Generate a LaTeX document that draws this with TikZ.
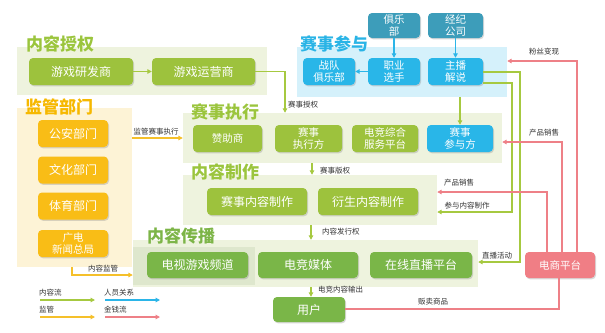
\documentclass[tikz,border=0pt]{standalone}
\usepackage{fontspec}
\setmainfont{Noto Sans CJK SC}
\usetikzlibrary{shadows,arrows.meta}
\definecolor{gboxc}{HTML}{9DC23D}
\definecolor{dboxc}{HTML}{7AB648}
\definecolor{gpanel}{HTML}{EEF3DE}
\definecolor{gpanel2}{HTML}{DEE7CD}
\definecolor{ypanel}{HTML}{FDF3D6}
\definecolor{yboxc}{HTML}{F9BD16}
\definecolor{bpanel}{HTML}{D5F1FB}
\definecolor{bboxc}{HTML}{29B6E8}
\definecolor{tboxc}{HTML}{3D9DBA}
\definecolor{pboxc}{HTML}{F07E85}
\definecolor{gline}{HTML}{A6C940}
\definecolor{yline}{HTML}{F5C02A}
\definecolor{bline}{HTML}{2BB5E8}
\definecolor{pline}{HTML}{EE8087}
\definecolor{gtitle}{HTML}{9BC53D}
\definecolor{ytitle}{HTML}{F6B800}
\definecolor{btitle}{HTML}{2AB4E6}
\definecolor{dtitle}{HTML}{7DB548}
\definecolor{lbl}{HTML}{333333}
\tikzset{
  box/.style={rounded corners=4pt, text=white, align=center, inner sep=0pt,
    font=\fontsize{12}{14}\selectfont,
    drop shadow={shadow xshift=1pt, shadow yshift=-1.3pt, opacity=0.3}},
  twoline/.style={font=\fontsize{10.5}{12}\selectfont},
  gbox/.style={box, fill=gboxc},
  dbox/.style={box, fill=dboxc},
  ybox/.style={box, fill=yboxc},
  bbox/.style={box, fill=bboxc},
  tbox/.style={box, fill=tboxc},
  pbox/.style={box, fill=pboxc},
  panel/.style={inner sep=0pt, draw=none},
  ttl/.style={font=\fontsize{17}{19}\selectfont\bfseries, inner sep=0pt},
  lab/.style={font=\fontsize{7.5}{9}\selectfont, text=lbl, inner sep=0pt},
  tip/.style={-{Triangle[length=4.5pt,width=4.5pt]}},
  gl/.style={draw=gline, line width=1.4pt, tip},
  yl/.style={draw=yline, line width=1.4pt, tip},
  bl/.style={draw=bline, line width=1.4pt, tip},
  pl/.style={draw=pline, line width=1.4pt, tip},
}
\begin{document}
\begin{tikzpicture}[x=1pt,y=-1pt]
\useasboundingbox[fill=white] (0,0) rectangle (605,332);
% panels
\node[panel, fill=gpanel, minimum width=250pt, minimum height=48pt] (P1) at (142,71) {};
\node[panel, fill=ypanel, minimum width=115pt, minimum height=159pt] (P2) at (74.5,187.5) {};
\node[panel, fill=bpanel, minimum width=210pt, minimum height=50pt] (P3) at (402,72) {};
\node[panel, fill=gpanel, minimum width=319pt, minimum height=50pt] (P4) at (342.5,138) {};
\node[panel, fill=gpanel, minimum width=254pt, minimum height=50pt] (P5) at (310,200) {};
\node[panel, fill=gpanel, minimum width=345pt, minimum height=47pt] (P6) at (305.5,263.5) {};
\node[panel, fill=gpanel2, minimum width=122pt, minimum height=38pt] (P6b) at (194,266) {};
% titles
\node[ttl, text=gtitle] (T1) at (60,44) {内容授权};
\node[ttl, text=ytitle] (T2) at (59,107) {监管部门};
\node[ttl, text=btitle] (T3) at (334,44) {赛事参与};
\node[ttl, text=gtitle] (T4) at (225,112) {赛事执行};
\node[ttl, text=gtitle] (T5) at (225,172) {内容制作};
\node[ttl, text=dtitle] (T6) at (181,236) {内容传播};
% content license
\node[gbox, minimum width=104pt, minimum height=27pt] (a1) at (81,71.5) {游戏研发商};
\node[gbox, minimum width=103pt, minimum height=27pt] (a2) at (203.5,71.5) {游戏运营商};
% participation
\node[tbox, twoline, minimum width=52pt, minimum height=25pt] (c1) at (394,25.5) {俱乐\\部};
\node[tbox, twoline, minimum width=55pt, minimum height=25pt] (c2) at (455.5,25.5) {经纪\\公司};
\node[bbox, twoline, minimum width=52pt, minimum height=27pt] (b1) at (329,71.5) {战队\\俱乐部};
\node[bbox, twoline, minimum width=52pt, minimum height=27pt] (b2) at (394,71.5) {职业\\选手};
\node[bbox, twoline, minimum width=55pt, minimum height=27pt] (b3) at (455.5,71.5) {主播\\解说};
% supervision
\node[ybox, minimum width=70pt, minimum height=27pt] (s1) at (73,133.5) {公安部门};
\node[ybox, minimum width=70pt, minimum height=27pt] (s2) at (73,170) {文化部门};
\node[ybox, minimum width=70pt, minimum height=27pt] (s3) at (73,206) {体育部门};
\node[ybox, twoline, minimum width=70pt, minimum height=27pt] (s4) at (73,243.5) {广电\\新闻总局};
% execution
\node[gbox, twoline, minimum width=69pt, minimum height=27pt] (e1) at (227.5,138.5) {赞助商};
\node[gbox, twoline, minimum width=67pt, minimum height=27pt] (e2) at (308.5,138.5) {赛事\\执行方};
\node[gbox, twoline, minimum width=66pt, minimum height=27pt] (e3) at (385,138.5) {电竞综合\\服务平台};
\node[bbox, twoline, minimum width=66pt, minimum height=27pt] (e4) at (460,138.5) {赛事\\参与方};
% production
\node[gbox, minimum width=100pt, minimum height=27pt] (m1) at (257,201.5) {赛事内容制作};
\node[gbox, minimum width=100pt, minimum height=27pt] (m2) at (368,201.5) {衍生内容制作};
% distribution
\node[dbox, minimum width=101pt, minimum height=26pt] (d1) at (197.5,265) {电视游戏频道};
\node[dbox, minimum width=100pt, minimum height=26pt] (d2) at (308,265) {电竞媒体};
\node[dbox, minimum width=102pt, minimum height=26pt] (d3) at (421,265) {在线直播平台};
\node[dbox, minimum width=72pt, minimum height=25pt] (u) at (309,309.5) {用户};
\node[pbox, twoline, minimum width=70pt, minimum height=26pt] (ec) at (560,265) {电商平台};
% connectors
\draw[gl] (a1) -- (a2);
\coordinate (k1) at (285,71.5);
\draw[gl] (a2.east) -- (k1) -- (k1 |- P4.north);
\node[lab, anchor=west] (L1) at (288,105) {赛事授权};
\draw[bl] (c1) -- (b2);
\draw[bl] (c2) -- (b3);
\draw[bl] (b2) -- (b1);
\draw[gl] (e4.north |- P3.south) -- (e4.north);
\coordinate (k2) at (0,138);
\draw[yl] (P2.east |- k2) -- (P4.west |- k2);
\node[lab] (L2) at (156,132) {监管赛事执行};
\coordinate (k3) at (312,0);
\draw[gl] (k3 |- P4.south) -- (k3 |- P5.north);
\node[lab, anchor=west] (L3) at (320,171) {赛事版权};
\coordinate (k4) at (311,0);
\draw[gl] (k4 |- P5.south) -- (k4 |- P6.north);
\node[lab, anchor=west] (L4) at (322,232) {内容发行权};
\draw[gl] (k4 |- P6.south) -- (k4 |- u.north);
\node[lab, anchor=west] (L5) at (318,290) {电竞内容输出};
\coordinate (k5) at (72,275);
\draw[yl] (k5 |- P2.south) -- (k5) -- (P6.west |- k5);
\node[lab] (L6) at (103,269) {内容监管};
% green from anchor
\coordinate (g1) at (520,72);
\coordinate (g2) at (520,262);
\draw[gl] (b3.east |- g1) -- (g1) -- (g2) -- (P6.east |- g2);
\node[lab] (L7) at (497,256) {直播活动};
\coordinate (g3) at (512,83);
\coordinate (g4) at (512,212);
\draw[gl] (b3.east |- g3) -- (g3) -- (g4) -- (P5.east |- g4);
\node[lab] (L8) at (467,206) {参与内容制作};
% pink
\coordinate (p1) at (577,61);
\draw[pl] (ec.north -| p1) -- (p1) -- (P3.east |- p1);
\node[lab] (L9) at (544,52) {粉丝变现};
\coordinate (p2) at (562,142);
\draw[pl] (ec.north -| p2) -- (p2) -- (P4.east |- p2);
\node[lab] (L10) at (544,133) {产品销售};
\coordinate (p3) at (547,192);
\draw[pl] (ec.north -| p3) -- (p3) -- (P5.east |- p3);
\node[lab] (L11) at (459,183) {产品销售};
\coordinate (p4) at (559,309);
\draw[draw=pline, line width=1.4pt] (ec.south -| p4) -- (p4) -- (u.east |- p4);
\node[lab] (L12) at (433,302) {贩卖商品};
% legend
\node[lab, anchor=west] (g5) at (39,293) {内容流};
\coordinate (lg1a) at (40,300); \coordinate (lg1b) at (95,300);
\draw[gl] (lg1a) -- (lg1b);
\node[lab, anchor=west] (g6) at (104,293) {人员关系};
\coordinate (lg2a) at (105,300); \coordinate (lg2b) at (160,300);
\draw[bl] (lg2a) -- (lg2b);
\node[lab, anchor=west] (g7) at (39,310) {监管};
\coordinate (lg3a) at (40,317); \coordinate (lg3b) at (95,317);
\draw[yl] (lg3a) -- (lg3b);
\node[lab, anchor=west] (g8) at (104,310) {金钱流};
\coordinate (lg4a) at (105,317); \coordinate (lg4b) at (160,317);
\draw[pl] (lg4a) -- (lg4b);
\end{tikzpicture}
\end{document}
